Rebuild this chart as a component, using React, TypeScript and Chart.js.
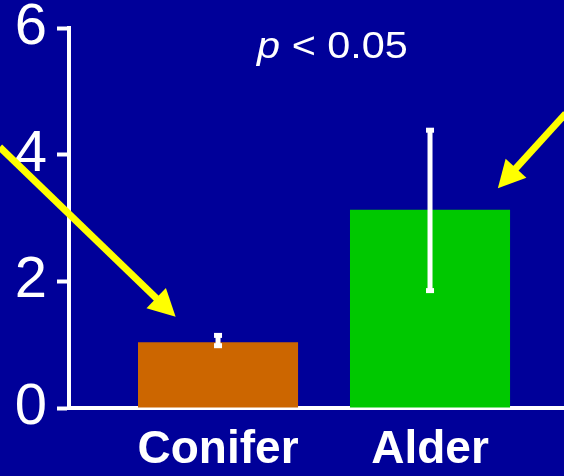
import React, { useEffect, useRef } from 'react';
import { Chart, registerables } from 'chart.js';

Chart.register(...registerables);

// ---- data ----
const categories = ['Conifer', 'Alder'];
const positions = [1, 2];
const values = [1.04, 3.13];
const errLow = [0.96, 1.83];
const errHigh = [1.17, 4.41];
const barColors = ['#CC6600', '#00C800'];
const yTickValues = [0, 2, 4, 6];
const annotationItalic = 'p';
const annotationRest = ' < 0.05';
const annotationPos = [1.54, 5.52];
// arrows in data coordinates: [fromX, fromY, toX, toY]
const arrows = [
  [-0.03, 4.12, 0.8, 1.44],
  [2.64, 4.65, 2.32, 3.47],
];

const BG = '#000099';
const FONT = '"Liberation Sans", Arial, Helvetica, sans-serif';

const decorPlugin = {
  id: 'decor',
  beforeDraw(chart: any) {
    const ctx = chart.ctx;
    ctx.save();
    ctx.fillStyle = BG;
    ctx.fillRect(0, 0, chart.width, chart.height);
    ctx.restore();
  },
  afterDatasetsDraw(chart: any) {
    const ctx = chart.ctx;
    const xs = chart.scales.x;
    const ys = chart.scales.y;
    ctx.save();
    ctx.strokeStyle = '#FFFFFF';
    ctx.fillStyle = '#FFFFFF';
    ctx.lineWidth = 5;
    positions.forEach((p, i) => {
      const px = xs.getPixelForValue(p);
      const yt = ys.getPixelForValue(errHigh[i]);
      const yb = ys.getPixelForValue(errLow[i]);
      ctx.beginPath();
      ctx.moveTo(px, yt);
      ctx.lineTo(px, yb);
      ctx.stroke();
      ctx.fillRect(px - 4, yt - 1, 8, 5);
      ctx.fillRect(px - 4, yb - 4, 8, 5);
    });
    ctx.restore();
  },
  afterDraw(chart: any) {
    const ctx = chart.ctx;
    const xs = chart.scales.x;
    const ys = chart.scales.y;
    ctx.save();
    // arrows
    ctx.strokeStyle = '#FFFF00';
    ctx.fillStyle = '#FFFF00';
    ctx.lineWidth = 7;
    arrows.forEach(([fx, fy, tx, ty]) => {
      const x1 = xs.getPixelForValue(fx);
      const y1 = ys.getPixelForValue(fy);
      const x2 = xs.getPixelForValue(tx);
      const y2 = ys.getPixelForValue(ty);
      const ang = Math.atan2(y2 - y1, x2 - x1);
      const headLen = 27;
      const headHalf = 14;
      const bx = x2 - headLen * Math.cos(ang);
      const by = y2 - headLen * Math.sin(ang);
      ctx.beginPath();
      ctx.moveTo(x1, y1);
      ctx.lineTo(bx + 2 * Math.cos(ang), by + 2 * Math.sin(ang));
      ctx.stroke();
      ctx.beginPath();
      ctx.moveTo(x2, y2);
      ctx.lineTo(bx + headHalf * Math.sin(ang), by - headHalf * Math.cos(ang));
      ctx.lineTo(bx - headHalf * Math.sin(ang), by + headHalf * Math.cos(ang));
      ctx.closePath();
      ctx.fill();
    });
    // p < 0.05 text (slightly widened like the reference)
    const cx = xs.getPixelForValue(annotationPos[0]);
    const cy = ys.getPixelForValue(annotationPos[1]);
    const sx = 1.15;
    ctx.fillStyle = '#FFFFFF';
    ctx.textBaseline = 'alphabetic';
    ctx.textAlign = 'left';
    const fItalic = `italic 36px ${FONT}`;
    const fNormal = `36px ${FONT}`;
    ctx.font = fItalic;
    const w1 = ctx.measureText(annotationItalic).width;
    ctx.font = fNormal;
    const w2 = ctx.measureText(annotationRest).width;
    ctx.translate(cx, cy);
    ctx.scale(sx, 1);
    const start = -(w1 + w2) / 2;
    ctx.font = fItalic;
    ctx.fillText(annotationItalic, start, 0);
    ctx.font = fNormal;
    ctx.fillText(annotationRest, start + w1, 0);
    ctx.restore();
  },
};

export default function App() {
  const canvasRef = useRef<HTMLCanvasElement | null>(null);

  useEffect(() => {
    const canvas = canvasRef.current;
    if (!canvas) return;
    const chart = new Chart(canvas, {
      type: 'bar',
      data: {
        datasets: [
          {
            data: positions.map((p, i) => ({ x: p, y: values[i] })),
            backgroundColor: barColors,
            borderWidth: 0,
            barPercentage: 0.755,
            categoryPercentage: 1,
          },
        ],
      },
      options: {
        responsive: false,
        animation: false,
        events: [],
        layout: { padding: { left: 0, right: 0, top: 0, bottom: 0 } },
        plugins: {
          legend: { display: false },
          tooltip: { enabled: false },
          title: { display: false },
        },
        scales: {
          x: {
            type: 'linear',
            offset: false,
            min: 0.297,
            max: 2.632,
            afterBuildTicks: (scale: any) => {
              scale.ticks = positions.map((v) => ({ value: v }));
            },
            afterFit: (scale: any) => {
              scale.height = 68;
            },
            ticks: {
              color: '#FFFFFF',
              padding: 17,
              autoSkip: false,
              maxRotation: 0,
              font: { family: FONT, size: 46, weight: 'bold', lineHeight: 1.1 },
              callback: (v: any) => {
                const idx = positions.indexOf(Number(v));
                return idx >= 0 ? categories[idx] : '';
              },
            },
            grid: { display: false, drawTicks: false, offset: false },
            border: { display: true, color: '#FFFFFF', width: 4 },
          },
          y: {
            type: 'linear',
            min: 0,
            max: 6,
            afterBuildTicks: (scale: any) => {
              scale.ticks = yTickValues.map((v) => ({ value: v }));
            },
            afterFit: (scale: any) => {
              scale.width = 69;
              scale.paddingTop = 28;
            },
            ticks: {
              color: '#FFFFFF',
              padding: 10,
              font: { family: FONT, size: 58, lineHeight: 1 },
            },
            grid: {
              display: true,
              drawOnChartArea: false,
              drawTicks: true,
              tickLength: 12,
              tickWidth: 4,
              tickColor: '#FFFFFF',
              color: '#FFFFFF',
            },
            border: { display: true, color: '#FFFFFF', width: 4 },
          },
        },
      },
      plugins: [decorPlugin],
    } as any);
    return () => chart.destroy();
  }, []);

  return (
    <div
      style={{
        position: 'fixed',
        left: 0,
        top: 0,
        width: 564,
        height: 476,
        background: BG,
      }}
    >
      <canvas ref={canvasRef} width={564} height={476} style={{ display: 'block' }} />
    </div>
  );
}
